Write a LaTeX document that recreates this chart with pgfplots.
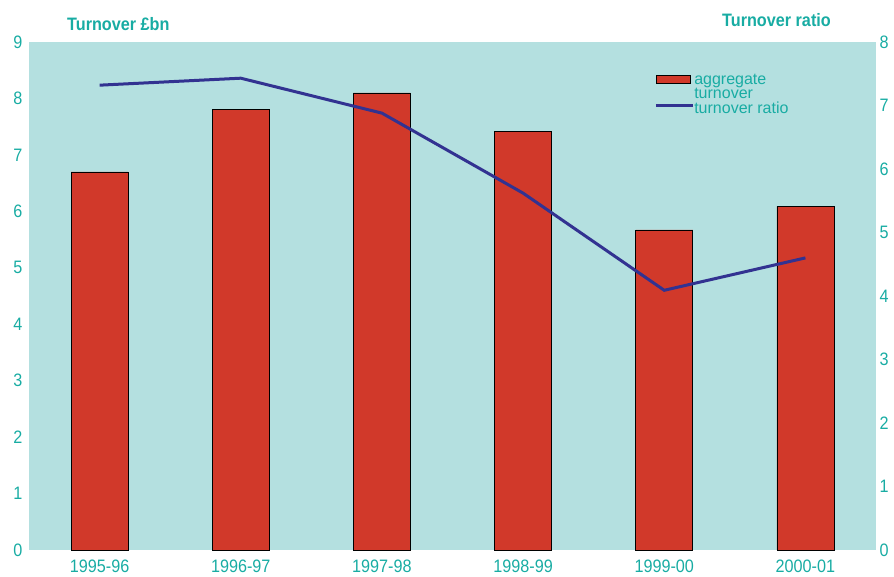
\documentclass[border=0pt]{standalone}
\usepackage{fontspec}
\setmainfont{Liberation Sans}
\newfontfamily\chartfont{Liberation Sans}[FakeStretch=0.9]
\usepackage{pgfplots}
\pgfplotsset{compat=1.18}
\definecolor{bgc}{RGB}{180,224,224}
\definecolor{barc}{RGB}{209,57,42}
\definecolor{linec}{RGB}{50,50,145}
\definecolor{txtc}{RGB}{24,172,163}
\pgfplotsset{common/.style={
  scale only axis, width=847pt, height=508pt,
  xmin=-0.5, xmax=5.5,
  axis line style={draw=none},
  tick style={draw=none},
  ticklabel style={font=\chartfont\fontsize{18}{20}\selectfont, text=txtc},
  /pgf/number format/assume math mode=true,
}}
\begin{document}
\begin{tikzpicture}
\begin{axis}[common,
  ymin=0, ymax=9, ytick={0,1,...,9},
  xtick={0,1,2,3,4,5},
  xticklabels={1995-96,1996-97,1997-98,1998-99,1999-00,2000-01},
  axis background/.style={fill=bgc},
  yticklabel style={xshift=-3pt},
  xticklabel style={anchor=base, yshift=-22.5pt},
]
\addplot[ybar, bar shift=0pt, bar width=57pt, fill=barc, draw=black, line width=0.6pt]
  coordinates {(0,6.70) (1,7.80) (2,8.10) (3,7.41) (4,5.67) (5,6.09)};
\end{axis}
\begin{axis}[common,
  ymin=0, ymax=8, ytick={0,1,...,8},
  axis y line*=right, axis x line=none,
  yticklabel style={xshift=0pt},
  legend cell align=left,
  legend style={at={(rel axis cs:0.738,0.939)}, anchor=north west,
    draw=none, fill=none, inner sep=0pt, row sep=0pt, column sep=0pt,
    font=\fontsize{16}{16}\selectfont, text=txtc,
    nodes={inner sep=0pt, text height=11pt, text depth=3.5pt}},
]
\addlegendimage{legend image code/.code={\draw[fill=barc,draw=black,line width=0.8pt] (0pt,-3pt) rectangle (34pt,5pt);}}
\addlegendentry{aggregate}
\addlegendimage{empty legend}
\addlegendentry{turnover}
\addplot[linec, line width=3pt, legend image code/.code={\draw[linec,line width=3pt] (-1pt,3.5pt) -- (36pt,3.5pt);}]
  coordinates {(0,7.32) (1,7.43) (2,6.88) (3,5.62) (4,4.09) (5,4.60)};
\addlegendentry{turnover ratio}
\end{axis}
\node[anchor=base west, text=txtc, font=\chartfont\bfseries\fontsize{18}{20}\selectfont, inner sep=0pt] at (38pt,519pt) {Turnover £bn};
\node[anchor=base east, text=txtc, font=\chartfont\bfseries\fontsize{18}{20}\selectfont, inner sep=0pt] at (802pt,523pt) {Turnover ratio};
\pgfresetboundingbox
\useasboundingbox (-29pt,-26pt) rectangle (865pt,550pt);
\end{tikzpicture}
\end{document}
